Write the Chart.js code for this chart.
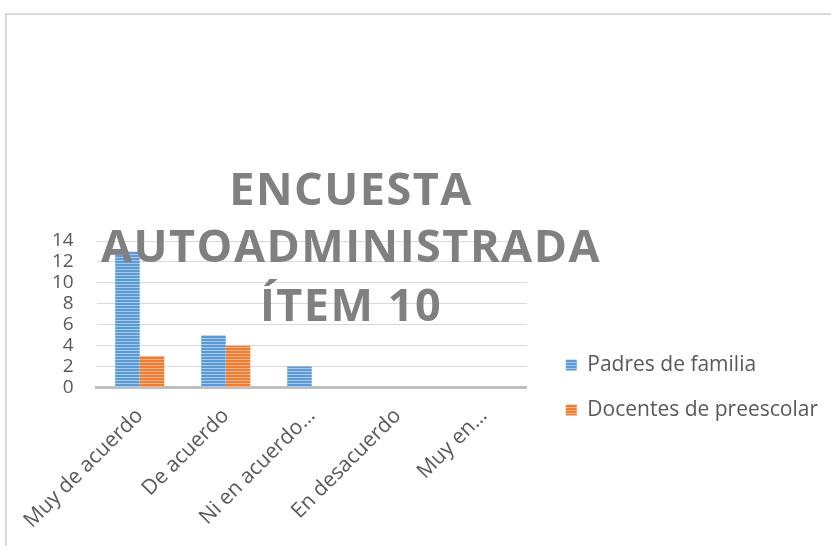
<!DOCTYPE html>
<html>
<head>
<meta charset="utf-8">
<script src="https://cdn.jsdelivr.net/npm/chart.js@4"></script>
<style>
  html, body { margin: 0; padding: 0; background: #ffffff; overflow: hidden; }
  #frame { position: absolute; left: 5px; top: 13px; width: 900px; height: 600px;
           border-top: 2px solid #d9d9d9; border-left: 2px solid #d9d9d9; }
  #c { position: absolute; left: 0; top: 0; }
</style>
</head>
<body>
<div id="frame"></div>
<canvas id="c" width="831" height="546"></canvas>
<script>
// ---- data ----
const categories = ["Muy de acuerdo", "De acuerdo", "Ni en acuerdo ni en desacuerdo", "En desacuerdo", "Muy en desacuerdo"];
const tickLabels = ["Muy de acuerdo", "De acuerdo", "Ni en acuerdo…", "En desacuerdo", "Muy en…"];
const padresDeFamilia = [13, 5, 2, 0, 0];
const docentesDePreescolar = [3, 4, 0, 0, 0];
const yTicks = [0, 2, 4, 6, 8, 10, 12, 14];
const titleLines = ["ENCUESTA", "AUTOADMINISTRADA", "ÍTEM 10"];
const seriesNames = ["Padres de familia", "Docentes de preescolar"];

function stripePattern(base, light) {
  const p = document.createElement('canvas');
  p.width = 4; p.height = 3;
  const g = p.getContext('2d');
  g.fillStyle = base; g.fillRect(0, 0, 4, 3);
  g.fillStyle = light; g.fillRect(0, 2, 4, 1);
  return g.createPattern(p, 'repeat');
}
const blueFill = stripePattern('#5b9bd5', '#a9c9ec');
const orangeFill = stripePattern('#ed7d31', '#f6b38a');

const titlePlugin = {
  id: 'overlayTitle',
  afterDatasetsDraw(chart) {
    const ctx = chart.ctx;
    ctx.save();
    ctx.font = 'bold 45px "Open Sans"';
    ctx.fillStyle = '#808080';
    ctx.textAlign = 'center';
    ctx.textBaseline = 'alphabetic';
    try { ctx.letterSpacing = '1.5px'; } catch (e) {}
    const cx = 351;
    const baselines = [205, 262, 321];
    titleLines.forEach((t, i) => ctx.fillText(t, cx, baselines[i]));
    ctx.restore();
  }
};

new Chart(document.getElementById('c'), {
  type: 'bar',
  data: {
    labels: tickLabels,
    datasets: [
      { label: seriesNames[0], data: padresDeFamilia, backgroundColor: blueFill, borderWidth: 0,
        categoryPercentage: 0.571, barPercentage: 1.0 },
      { label: seriesNames[1], data: docentesDePreescolar, backgroundColor: orangeFill, borderWidth: 0,
        categoryPercentage: 0.571, barPercentage: 1.0 }
    ]
  },
  options: {
    responsive: false,
    animation: false,
    devicePixelRatio: 1,
    layout: { padding: { top: 241, left: 29, right: 3, bottom: 12 } },
    plugins: {
      title: { display: false },
      tooltip: { enabled: false },
      legend: {
        position: 'right',
        align: 'center',
        maxWidth: 400,
        labels: {
          font: { family: 'Open Sans', size: 21 },
          color: '#595959',
          boxWidth: 11,
          boxHeight: 11,
          padding: 24
        }
      }
    },
    scales: {
      x: {
        grid: { display: false },
        border: { display: true, color: '#bfbfbf', width: 3 },
        afterFit(scale) { scale.paddingLeft = 0; scale.paddingRight = 0; },
        ticks: {
          font: { family: 'Open Sans', size: 21 },
          color: '#595959',
          minRotation: 45, maxRotation: 45,
          autoSkip: false,
          padding: 8
        }
      },
      y: {
        min: 0, max: 14,
        afterBuildTicks(scale) { scale.ticks = yTicks.map(v => ({ value: v })); },
        grid: { color: '#d9d9d9', lineWidth: 1, drawTicks: false },
        border: { display: false },
        ticks: {
          font: { family: 'Open Sans', size: 19 },
          color: '#595959',
          autoSkip: false,
          padding: 23
        }
      },
      gap: {
        position: 'right',
        display: true,
        grid: { display: false, drawTicks: false },
        border: { display: false },
        ticks: { display: false },
        afterFit(scale) { scale.width = 15; }
      }
    }
  },
  plugins: [titlePlugin]
});
</script>
</body>
</html>
